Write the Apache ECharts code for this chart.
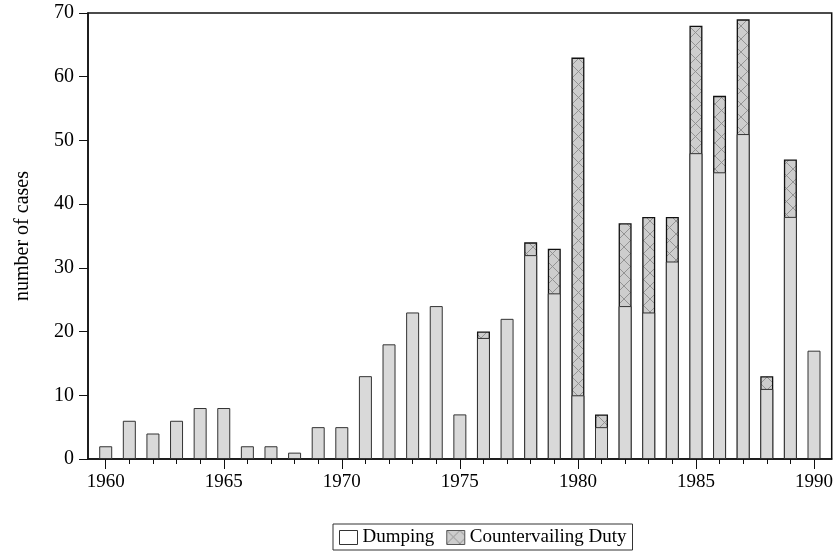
<!DOCTYPE html>
<html><head><meta charset="utf-8">
<script src="https://cdn.jsdelivr.net/npm/echarts@6/dist/echarts.min.js"></script>
<style>html,body{margin:0;padding:0;background:#fff}#c{width:836px;height:557px}</style>
</head><body><div id="c"></div>
<script>
const years = [1960,1961,1962,1963,1964,1965,1966,1967,1968,1969,1970,1971,1972,1973,1974,1975,1976,1977,1978,1979,1980,1981,1982,1983,1984,1985,1986,1987,1988,1989,1990];
const dumping = [2,6,4,6,8,8,2,2,1,5,5,13,18,23,24,7,19,22,32,26,10,5,24,23,31,48,45,51,11,38,17];
const countervailing = [0,0,0,0,0,0,0,0,0,0,0,0,0,0,0,0,1,0,2,7,53,2,13,15,7,20,12,18,2,9,0];
const majorYears = [1960,1965,1970,1975,1980,1985,1990];
const yTicks = [0,10,20,30,40,50,60,70];

function hatch(){
  const s = 13;
  const c = document.createElement('canvas'); c.width = s; c.height = s;
  const g = c.getContext('2d');
  g.fillStyle = '#cdcdcd'; g.fillRect(0,0,s,s);
  g.strokeStyle = '#8c8c8c'; g.lineWidth = 0.9;
  g.beginPath(); g.moveTo(0,0); g.lineTo(s,s); g.moveTo(s,0); g.lineTo(0,s); g.stroke();
  return c;
}
const pat = {image: hatch(), repeat: 'repeat'};
const font = 'Liberation Serif';
const chart = echarts.init(document.getElementById('c'));
const xmin = 1959.25, xmax = 1990.75;
// CVD sits on top of dumping: its bar spans dumping..dumping+cvd; the dumping bar is drawn over the lower part
const cvdTop = years.map((y,i)=> countervailing[i] ? [y, dumping[i] + countervailing[i]] : [y, null]);
chart.setOption({
  animation:false,
  grid:{left:88,right:4,top:13,bottom:98,show:true,borderColor:'#111',borderWidth:1.5},
  legend:{top:524,left:333,borderColor:'#333',borderWidth:1,padding:[4,6,3,6],itemGap:12,itemWidth:18,itemHeight:14,icon:'rect',
    textStyle:{fontFamily:font,fontSize:19,color:'#000'},
    data:[{name:'Dumping',itemStyle:{color:'#fff',borderColor:'#333',borderWidth:1}},{name:'Countervailing Duty',itemStyle:{borderColor:'#555',borderWidth:1}}]},
  xAxis:[
    {type:'value',min:xmin,max:xmax,position:'bottom',splitLine:{show:false},
     axisLine:{show:true,lineStyle:{color:'#111',width:1.5}},
     axisTick:{show:true,customValues:years,length:5,lineStyle:{color:'#111'}},
     axisLabel:{show:false}},
    {type:'value',min:xmin,max:xmax,position:'bottom',splitLine:{show:false},
     axisLine:{show:false},
     axisTick:{show:true,customValues:majorYears,length:10,lineStyle:{color:'#111'}},
     axisLabel:{show:true,customValues:majorYears,margin:14,fontFamily:font,fontSize:19,color:'#000',formatter:v=>String(Math.round(v))}}
  ],
  yAxis:{type:'value',min:0,max:70,interval:10,splitLine:{show:false},
    name:'number of cases',nameLocation:'middle',nameGap:55,nameTextStyle:{fontFamily:font,fontSize:20,color:'#000'},
    axisLine:{show:true,lineStyle:{color:'#111',width:1.5}},
    axisTick:{show:true,length:9,lineStyle:{color:'#111'}},
    axisLabel:{margin:14,fontFamily:font,fontSize:20,color:'#000'}},
  series:[
    {name:'Countervailing Duty',type:'bar',xAxisIndex:0,barWidth:13,barGap:'-100%',z:2,
     data:cvdTop,
     itemStyle:{color:pat,borderColor:'#111',borderWidth:1.3}},
    {name:'Dumping',type:'bar',xAxisIndex:0,barWidth:13,barGap:'-100%',z:3,
     data:years.map((y,i)=>[y,dumping[i]]),
     itemStyle:{color:'#d9d9d9',borderColor:'#333',borderWidth:1}}
  ]
});
</script></body></html>
